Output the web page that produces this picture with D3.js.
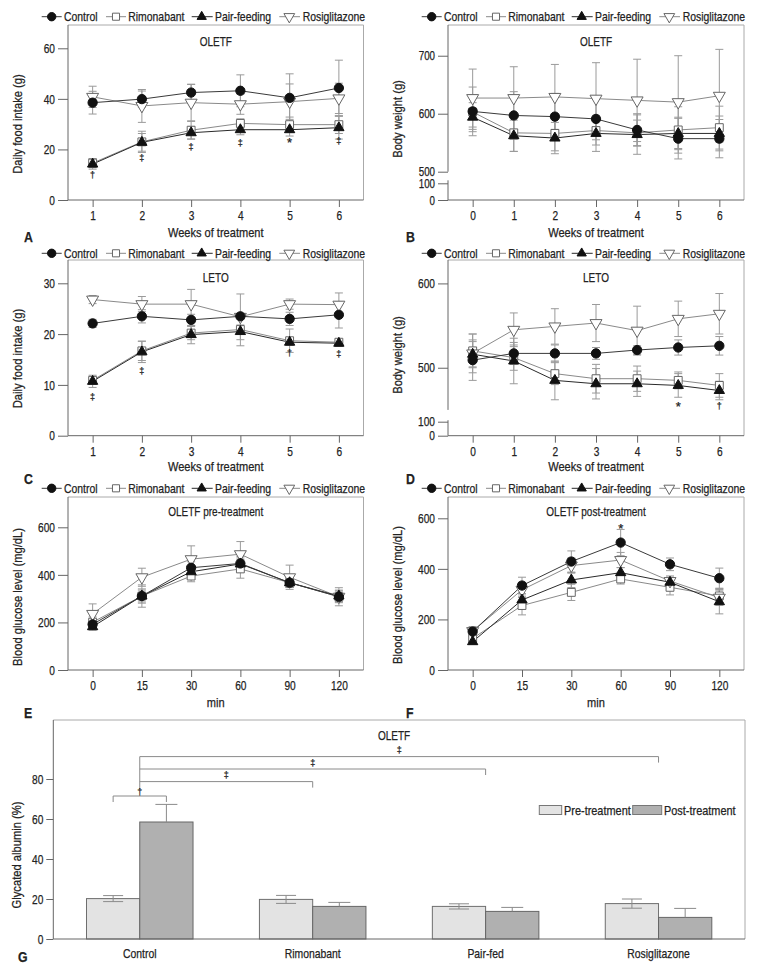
<!DOCTYPE html>
<html><head><meta charset="utf-8">
<script src="https://cdn.jsdelivr.net/npm/d3@7"></script>
<style>
body{margin:0;background:#fff;}
svg text{font-family:'Liberation Sans',Arial,'DejaVu Sans',sans-serif;fill:#222;stroke:#222;stroke-width:0.25px;}
</style></head><body>
<svg id="c" width="760" height="975"></svg>
<script>
// ---------------- DATA ----------------
const seriesNames = ["Control","Rimonabant","Pair-feeding","Rosiglitazone"];
const weeks1to6 = ["1","2","3","4","5","6"];
const weeks0to6 = ["0","1","2","3","4","5","6"];
const ogttMinutes = ["0","15","30","60","90","120"];

// A: OLETF daily food intake (g)
const foodOLETF_control = [38.5, 39.9, 42.5, 43.2, 40.4, 44.3];
const foodOLETF_control_sd = [4.5, 3.2, 3.3, 6.3, 9.5, 11.0];
const foodOLETF_rimonabant = [14.6, 23.0, 27.6, 30.3, 29.8, 29.8];
const foodOLETF_rimonabant_sd = [1.8, 4.2, 3.5, 1.8, 3.0, 3.5];
const foodOLETF_pairfeeding = [14.2, 22.8, 26.6, 27.8, 27.8, 28.6];
const foodOLETF_pairfeeding_sd = [2.0, 3.5, 2.5, 2.0, 2.5, 4.5];
const foodOLETF_rosiglitazone = [40.8, 37.2, 38.5, 37.9, 38.9, 40.2];
const foodOLETF_rosiglitazone_sd = [4.2, 6.5, 7.2, 4.0, 7.0, 6.0];
const sigA_symbols = ["†","‡","‡","‡","*","‡"];
const sigA_levels = [9.9, 16.6, 21.0, 22.5, 24.1, 23.3];

// B: OLETF body weight (g)
const bwOLETF_control = [604, 597, 595, 591, 572, 557, 557];
const bwOLETF_control_sd = [42, 41, 40, 36, 28, 35, 33];
const bwOLETF_rimonabant = [603, 567, 566, 571, 567, 572, 576];
const bwOLETF_rimonabant_sd = [30, 32, 30, 25, 22, 40, 37];
const bwOLETF_pairfeeding = [594, 562, 558, 566, 564, 566, 566];
const bwOLETF_pairfeeding_sd = [25, 27, 27, 31, 34, 28, 30];
const bwOLETF_rosiglitazone = [627, 627, 629, 626, 623, 620, 631];
const bwOLETF_rosiglitazone_sd = [50, 54, 56, 62, 71, 80, 80];

// C: LETO daily food intake (g)
const foodLETO_control = [22.1, 23.5, 22.8, 23.5, 23.0, 23.8];
const foodLETO_control_sd = [0.8, 1.3, 1.1, 0.6, 1.3, 2.6];
const foodLETO_rimonabant = [10.9, 16.7, 20.2, 20.9, 18.7, 18.4];
const foodLETO_rimonabant_sd = [0.6, 1.9, 1.3, 0.9, 2.3, 0.5];
const foodLETO_pairfeeding = [10.7, 16.5, 19.9, 20.5, 18.4, 18.2];
const foodLETO_pairfeeding_sd = [1.2, 2.1, 1.8, 2.8, 0.6, 0.6];
const foodLETO_rosiglitazone = [26.8, 25.9, 25.9, 23.4, 25.9, 25.8];
const foodLETO_rosiglitazone_sd = [0.8, 1.5, 2.9, 4.5, 1.0, 2.3];
const sigC_symbols = ["‡","‡","","","†","‡"];
const sigC_levels = [7.7, 12.7, 0, 0, 16.4, 16.2];

// D: LETO body weight (g)
const bwLETO_control = [509, 517, 517, 517, 521, 524, 526];
const bwLETO_control_sd = [24, 13, 10, 7, 5, 9, 11];
const bwLETO_rimonabant = [520, 512, 493, 487, 487, 485, 479];
const bwLETO_rimonabant_sd = [20, 15, 13, 17, 15, 10, 14];
const bwLETO_pairfeeding = [516, 508, 485, 481, 481, 479, 473];
const bwLETO_pairfeeding_sd = [15, 27, 23, 18, 15, 14, 11];
const bwLETO_rosiglitazone = [517, 545, 549, 553, 544, 558, 564];
const bwLETO_rosiglitazone_sd = [23, 20, 21, 22, 29, 21, 24];
const sigD_symbols = ["","","","","","*","†"];
const sigD_levels = [0, 0, 0, 0, 0, 458, 455];

// E: OLETF pre-treatment glucose (mg/dL)
const gluPre_control = [192, 311, 430, 448, 367, 308];
const gluPre_control_sd = [20, 25, 25, 30, 20, 25];
const gluPre_rimonabant = [201, 311, 395, 425, 367, 308];
const gluPre_rimonabant_sd = [22, 47, 24, 39, 20, 20];
const gluPre_pairfeeding = [182, 311, 413, 446, 367, 311];
const gluPre_pairfeeding_sd = [15, 30, 20, 25, 20, 25];
const gluPre_rosiglitazone = [236, 390, 466, 487, 390, 308];
const gluPre_rosiglitazone_sd = [42, 38, 56, 53, 51, 38];

// F: OLETF post-treatment glucose (mg/dL)
const gluPost_control = [152, 334, 429, 504, 418, 363];
const gluPost_control_sd = [20, 33, 42, 52, 25, 40];
const gluPost_rimonabant = [125, 255, 307, 360, 327, 293];
const gluPost_rimonabant_sd = [20, 37, 32, 20, 30, 30];
const gluPost_pairfeeding = [112, 277, 356, 385, 347, 270];
const gluPost_pairfeeding_sd = [10, 25, 30, 20, 20, 48];
const gluPost_rosiglitazone = [154, 317, 413, 435, 352, 286];
const gluPost_rosiglitazone_sd = [15, 30, 30, 30, 20, 30];
const sigF_symbols = ["","","","*","",""];
const sigF_levels = [0, 0, 0, 574, 0, 0];

// G: glycated albumin (%)
const albuminGroups = ["Control","Rimonabant","Pair-fed","Rosiglitazone"];
const albuminPre = [20.2, 19.8, 16.3, 17.7];
const albuminPre_sd = [1.5, 2.0, 1.3, 2.3];
const albuminPost = [58.5, 16.3, 13.8, 10.8];
const albuminPost_sd = [8.8, 2.0, 2.0, 4.5];
const albuminBarLabels = ["Pre-treatment","Post-treatment"];
const albuminBracketTargets = ["Rimonabant","Pair-fed","Rosiglitazone"];
const albuminBracketLevels = [78.7, 85.0, 91.2];
const albuminBracketSymbols = ["‡","‡","‡"];
const albuminControlBracketLevel = 71.5;
const albuminControlSymbol = "†";

// ---------------- DRAWING ----------------
const svg = d3.select("#c");
const FS = 12.5;

// condensed look: squeeze each text horizontally
function squeeze(sel, f){
  sel.each(function(){
    const w = this.getComputedTextLength();
    if (w > 0) d3.select(this).attr("textLength", w*f).attr("lengthAdjust","spacingAndGlyphs");
  });
  return sel;
}
function T(g, x, y, str, size, f, anchor, extra){
  const t = g.append("text").attr("x",x).attr("y",y).attr("font-size",size)
    .attr("text-anchor",anchor||"start").text(str);
  if (extra) extra(t);
  squeeze(t, f);
  return t;
}

const styles = {
  "Control":      {type:"circle", fill:"#111", stroke:"#111", line:"#3a3a3a", size:68},
  "Rimonabant":   {type:"square", fill:"#fff", stroke:"#666", line:"#8a8a8a", size:62},
  "Pair-feeding": {type:"tri",    fill:"#111", stroke:"#111", line:"#2a2a2a", size:46},
  "Rosiglitazone":{type:"itri",   fill:"#fff", stroke:"#666", line:"#8a8a8a", size:62}
};
const symType = {circle:d3.symbolCircle, square:d3.symbolSquare, tri:d3.symbolTriangle, itri:d3.symbolTriangle};

function drawMarker(g, name, x, y, k){
  const st = styles[name];
  g.append("path")
    .attr("d", d3.symbol().type(symType[st.type]).size(st.size*k*k)())
    .attr("transform", `translate(${x},${y})` + (st.type==="itri" ? " rotate(180)" : ""))
    .attr("fill", st.fill).attr("stroke", st.stroke).attr("stroke-width", 1);
}

const legendOffsets = [
  {name:"Control", l0:-26.3, l1:-6.3, m:-16.3, t:-4},
  {name:"Rimonabant", l0:38, l1:58, m:48, t:60.3},
  {name:"Pair-feeding", l0:123.7, l1:144.7, m:133.7, t:147},
  {name:"Rosiglitazone", l0:211.3, l1:232, m:221.3, t:234.7}
];

function drawLegend(x0, yc){
  const g = svg.append("g");
  legendOffsets.forEach(o=>{
    g.append("line").attr("x1",x0+o.l0).attr("x2",x0+o.l1).attr("y1",yc).attr("y2",yc)
      .attr("stroke",styles[o.name].line).attr("stroke-width",1);
    drawMarker(g, o.name, x0+o.m, yc, 0.9);
    T(g, x0+o.t, yc+4.6, o.name, 13, 0.8);
  });
}

function drawLinePanel(p){
  const g = svg.append("g");
  const x = d3.scalePoint().domain(p.cats).range([p.x0,p.x1]).padding(p.pad);
  const y = d3.scaleLinear().domain(p.yDomain).range(p.yRange);
  // frame
  g.append("line").attr("x1",p.x0).attr("x2",p.x1).attr("y1",p.top).attr("y2",p.top).attr("stroke","#aaa");
  g.append("line").attr("x1",p.x1).attr("x2",p.x1).attr("y1",p.top).attr("y2",p.bottom).attr("stroke","#aaa");
  g.append("line").attr("x1",p.x0).attr("x2",p.x1).attr("y1",p.bottom).attr("y2",p.bottom).attr("stroke","#666");
  const segs = p.leftSegs ? p.leftSegs(y) : [[p.top,p.bottom]];
  segs.forEach(s=>g.append("line").attr("x1",p.x0).attr("x2",p.x0).attr("y1",s[0]).attr("y2",s[1]).attr("stroke","#666"));
  // y axis
  const gy = g.append("g").attr("transform",`translate(${p.x0},0)`)
    .call(d3.axisLeft(y).tickValues(p.yTicks).tickSize(10).tickPadding(3).tickFormat(d3.format("d")));
  gy.select(".domain").remove();
  gy.selectAll("line").attr("stroke","#666");
  squeeze(gy.selectAll("text").attr("font-size",p.yTickFS||13), 0.78);
  // x axis
  const gx = g.append("g").attr("transform",`translate(0,${p.bottom})`)
    .call(d3.axisBottom(x).tickSize(7).tickPadding(4));
  gx.select(".domain").remove();
  gx.selectAll("line").attr("stroke","#666");
  squeeze(gx.selectAll("text").attr("font-size",13), 0.78);
  // error bars
  const order = ["Rimonabant","Rosiglitazone","Pair-feeding","Control"];
  order.forEach(name=>{
    const s = p.series[name];
    s.vals.forEach((v,i)=>{
      const cx = x(p.cats[i]), yt = y(v + s.sd[i]), yb = y(v - s.sd[i]);
      g.append("line").attr("x1",cx).attr("x2",cx).attr("y1",yt).attr("y2",yb).attr("stroke","#9a9a9a");
      [yt,yb].forEach(yy=>g.append("line").attr("x1",cx-4).attr("x2",cx+4).attr("y1",yy).attr("y2",yy).attr("stroke","#9a9a9a"));
    });
  });
  // lines
  order.forEach(name=>{
    const s = p.series[name];
    g.append("path").datum(s.vals)
      .attr("d", d3.line().x((d,i)=>x(p.cats[i])).y(d=>y(d)))
      .attr("fill","none").attr("stroke",styles[name].line).attr("stroke-width",1);
  });
  // markers
  order.forEach(name=>{
    const s = p.series[name];
    s.vals.forEach((v,i)=>drawMarker(g, name, x(p.cats[i]), y(v), 1));
  });
  // significance
  if(p.sig){
    p.sig.symbols.forEach((sym,i)=>{
      if(!sym) return;
      g.append("text").attr("x",x(p.cats[i])).attr("y",y(p.sig.levels[i]))
        .attr("dy", sym==="*" ? "0.62em" : "0.36em")
        .attr("text-anchor","middle").attr("font-size", sym==="*" ? 13 : 9).text(sym);
    });
  }
  // labels
  const mid = (p.x0+p.x1)/2;
  T(g, mid, p.titleY, p.title, 13.5, 0.74, "middle");
  T(g, mid, p.xlabelY, p.xlabel, 13, 0.85, "middle");
  const yl = g.append("text").attr("transform",`translate(${p.ylabelX},${p.ylabelY}) rotate(-90)`)
    .attr("text-anchor","middle").attr("font-size",13).text(p.ylabel);
  squeeze(yl, 0.86);
  T(g, p.letterX, p.letterY, p.letter, 15, 0.82, "start", t=>t.attr("font-weight","bold"));
  drawLegend(p.x0, p.legendY);
}

function mk(c,csd,r,rsd,pf,pfsd,ro,rosd){
  return {"Control":{vals:c,sd:csd},"Rimonabant":{vals:r,sd:rsd},"Pair-feeding":{vals:pf,sd:pfsd},"Rosiglitazone":{vals:ro,sd:rosd}};
}

const L = {x0:68, x1:363.5}, R = {x0:448, x1:744};

drawLinePanel({...L, top:25, bottom:200, cats:weeks1to6, pad:0.5,
  yDomain:[0,60], yRange:[200,48.3], yTicks:[0,20,40,60],
  series: mk(foodOLETF_control,foodOLETF_control_sd,foodOLETF_rimonabant,foodOLETF_rimonabant_sd,foodOLETF_pairfeeding,foodOLETF_pairfeeding_sd,foodOLETF_rosiglitazone,foodOLETF_rosiglitazone_sd),
  sig:{symbols:sigA_symbols, levels:sigA_levels},
  title:"OLETF", titleY:46, xlabel:"Weeks of treatment", xlabelY:236.5,
  ylabel:"Daily food intake (g)", ylabelX:22, ylabelY:124, letter:"A", letterX:24, letterY:242, legendY:16.7});

drawLinePanel({...R, top:25, bottom:200, cats:weeks0to6, pad:0.6,
  yDomain:[0,100,500,753], yRange:[200,183.3,171.7,25], yTicks:[0,100,500,600,700], yTickFS:12.5,
  leftSegs: y=>[[25, y(500)], [y(100)-3, 200]],
  series: mk(bwOLETF_control,bwOLETF_control_sd,bwOLETF_rimonabant,bwOLETF_rimonabant_sd,bwOLETF_pairfeeding,bwOLETF_pairfeeding_sd,bwOLETF_rosiglitazone,bwOLETF_rosiglitazone_sd),
  title:"OLETF", titleY:46, xlabel:"Weeks of treatment", xlabelY:236.5,
  ylabel:"Body weight (g)", ylabelX:402, ylabelY:119, letter:"B", letterX:406, letterY:242, legendY:16.7});

drawLinePanel({...L, top:260, bottom:435.7, cats:weeks1to6, pad:0.5,
  yDomain:[0,30], yRange:[435.7,283.3], yTicks:[0,10,20,30],
  series: mk(foodLETO_control,foodLETO_control_sd,foodLETO_rimonabant,foodLETO_rimonabant_sd,foodLETO_pairfeeding,foodLETO_pairfeeding_sd,foodLETO_rosiglitazone,foodLETO_rosiglitazone_sd),
  sig:{symbols:sigC_symbols, levels:sigC_levels},
  title:"LETO", titleY:281.5, xlabel:"Weeks of treatment", xlabelY:471,
  ylabel:"Daily food intake (g)", ylabelX:22, ylabelY:358.5, letter:"C", letterX:24, letterY:484, legendY:253.3});

drawLinePanel({...R, top:260, bottom:435.7, cats:weeks0to6, pad:0.6,
  yDomain:[0,100,450,628], yRange:[435.7,421.7,409.9,259.8], yTicks:[0,100,500,600],
  leftSegs: y=>[[260, y(450)], [y(100)-1.5, 435.7]],
  series: mk(bwLETO_control,bwLETO_control_sd,bwLETO_rimonabant,bwLETO_rimonabant_sd,bwLETO_pairfeeding,bwLETO_pairfeeding_sd,bwLETO_rosiglitazone,bwLETO_rosiglitazone_sd),
  sig:{symbols:sigD_symbols, levels:sigD_levels},
  title:"LETO", titleY:281.5, xlabel:"Weeks of treatment", xlabelY:471,
  ylabel:"Body weight (g)", ylabelX:402, ylabelY:355, letter:"D", letterX:406, letterY:484, legendY:253.3});

drawLinePanel({...L, top:497, bottom:670, cats:ogttMinutes, pad:0.5,
  yDomain:[0,600], yRange:[670,527.3], yTicks:[0,200,400,600],
  series: mk(gluPre_control,gluPre_control_sd,gluPre_rimonabant,gluPre_rimonabant_sd,gluPre_pairfeeding,gluPre_pairfeeding_sd,gluPre_rosiglitazone,gluPre_rosiglitazone_sd),
  title:"OLETF pre-treatment", titleY:516, xlabel:"min", xlabelY:707,
  ylabel:"Blood glucose level (mg/dL)", ylabelX:22, ylabelY:597, letter:"E", letterX:24, letterY:718, legendY:488.3});

drawLinePanel({...R, top:497, bottom:670, cats:ogttMinutes, pad:0.5,
  yDomain:[0,600], yRange:[670,518.3], yTicks:[0,200,400,600],
  series: mk(gluPost_control,gluPost_control_sd,gluPost_rimonabant,gluPost_rimonabant_sd,gluPost_pairfeeding,gluPost_pairfeeding_sd,gluPost_rosiglitazone,gluPost_rosiglitazone_sd),
  sig:{symbols:sigF_symbols, levels:sigF_levels},
  title:"OLETF post-treatment", titleY:516, xlabel:"min", xlabelY:707,
  ylabel:"Blood glucose level (mg/dL)", ylabelX:402, ylabelY:595, letter:"F", letterX:406, letterY:718, legendY:488.3});

// ---------- Panel G ----------
(function(){
  const g = svg.append("g");
  const x0 = 53.3, x1 = 745, top = 720, bottom = 939;
  const x = d3.scaleBand().domain(albuminGroups).range([x0,x1]).padding(0);
  const y = d3.scaleLinear().domain([0,80]).range([bottom,779]);
  const bw = x.bandwidth()*0.308;
  const cx = d => x(d) + x.bandwidth()/2;
  // frame
  g.append("line").attr("x1",x0).attr("x2",x1).attr("y1",top).attr("y2",top).attr("stroke","#aaa");
  g.append("line").attr("x1",x1).attr("x2",x1).attr("y1",top).attr("y2",bottom).attr("stroke","#aaa");
  g.append("line").attr("x1",x0).attr("x2",x0).attr("y1",top).attr("y2",bottom).attr("stroke","#666");
  const gy = g.append("g").attr("transform",`translate(${x0},0)`)
    .call(d3.axisLeft(y).tickValues([0,20,40,60,80]).tickSize(7).tickPadding(3));
  gy.select(".domain").remove();
  gy.selectAll("line").attr("stroke","#666");
  squeeze(gy.selectAll("text").attr("font-size",13), 0.78);
  // category labels
  albuminGroups.forEach(d=>T(g, cx(d), 958, d, 13, 0.8, "middle"));
  // bars
  albuminGroups.forEach((d,i)=>{
    g.append("rect").attr("x",cx(d)-bw).attr("width",bw).attr("y",y(albuminPre[i])).attr("height",y(0)-y(albuminPre[i]))
      .attr("fill","#e3e3e3").attr("stroke","#6e6e6e");
    g.append("rect").attr("x",cx(d)).attr("width",bw).attr("y",y(albuminPost[i])).attr("height",y(0)-y(albuminPost[i]))
      .attr("fill","#b0b0b0").attr("stroke","#666");
  });
  // error bars
  const ec = "#8a8a8a";
  albuminGroups.forEach((d,i)=>{
    const xp = cx(d)-bw/2, xq = cx(d)+bw/2;
    const pt = y(albuminPre[i]+albuminPre_sd[i]), pb = y(albuminPre[i]-albuminPre_sd[i]);
    g.append("line").attr("x1",xp).attr("x2",xp).attr("y1",pt).attr("y2",pb).attr("stroke",ec);
    [pt,pb].forEach(yy=>g.append("line").attr("x1",xp-10).attr("x2",xp+10).attr("y1",yy).attr("y2",yy).attr("stroke",ec));
    const qt = y(albuminPost[i]+albuminPost_sd[i]);
    g.append("line").attr("x1",xq).attr("x2",xq).attr("y1",qt).attr("y2",y(albuminPost[i])).attr("stroke",ec);
    g.append("line").attr("x1",xq-11).attr("x2",xq+11).attr("y1",qt).attr("y2",qt).attr("stroke",ec);
  });
  g.append("line").attr("x1",x0).attr("x2",x1).attr("y1",bottom).attr("y2",bottom).attr("stroke","#666");
  // brackets
  const bc = "#8a8a8a";
  const c0 = cx("Control");
  albuminBracketTargets.forEach((t,i)=>{
    const yy = y(albuminBracketLevels[i]), xe = cx(t);
    g.append("line").attr("x1",c0).attr("x2",xe).attr("y1",yy).attr("y2",yy).attr("stroke",bc);
    g.append("line").attr("x1",xe).attr("x2",xe).attr("y1",yy).attr("y2",yy+6).attr("stroke",bc);
    g.append("text").attr("x",(c0+xe)/2).attr("y",yy-3.5).attr("text-anchor","middle").attr("font-size",9).text(albuminBracketSymbols[i]);
  });
  g.append("line").attr("x1",c0).attr("x2",c0).attr("y1",y(d3.max(albuminBracketLevels))).attr("y2",y(albuminControlBracketLevel+3.5)).attr("stroke",bc);
  const yc = y(albuminControlBracketLevel), xa = c0-bw/2, xb = c0+bw/2;
  g.append("line").attr("x1",xa).attr("x2",xb).attr("y1",yc).attr("y2",yc).attr("stroke",bc);
  [xa,xb].forEach(xx=>g.append("line").attr("x1",xx).attr("x2",xx).attr("y1",yc).attr("y2",yc+6).attr("stroke",bc));
  g.append("text").attr("x",c0).attr("y",yc-1.5).attr("text-anchor","middle").attr("font-size",9).text(albuminControlSymbol);
  // title, y label, letter
  T(g, 394, 739.5, "OLETF", 13.5, 0.74, "middle");
  squeeze(g.append("text").attr("transform","translate(21,855) rotate(-90)").attr("text-anchor","middle").attr("font-size",13).text("Glycated albumin (%)"), 0.86);
  T(g, 18, 962, "G", 15, 0.82, "start", t=>t.attr("font-weight","bold"));
  // legend
  const leg = [{box:539.3, w:22.4, fill:"#e3e3e3", tx:564},{box:632.7, w:29, fill:"#b0b0b0", tx:664}];
  leg.forEach((l,i)=>{
    g.append("rect").attr("x",l.box).attr("y",805.5).attr("width",l.w).attr("height",9).attr("fill",l.fill).attr("stroke","#777");
    T(g, l.tx, 814.5, albuminBarLabels[i], 13, 0.84);
  });
})();
</script>
</body></html>
